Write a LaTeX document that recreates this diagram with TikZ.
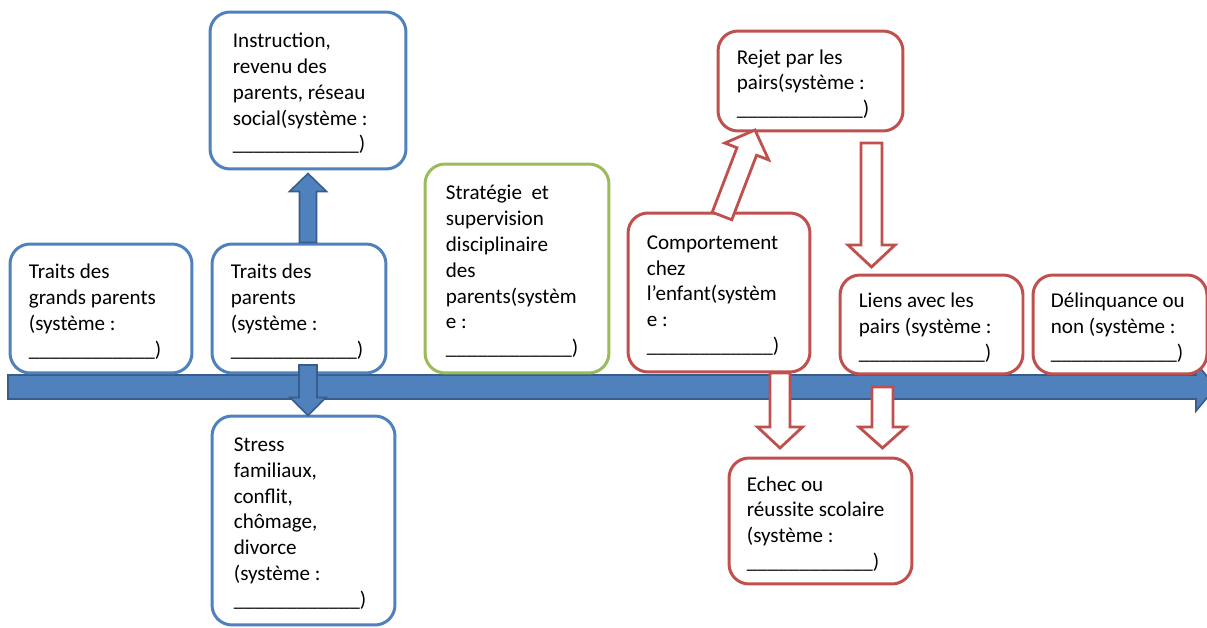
\documentclass[tikz,border=0pt]{standalone}
\usepackage{fontspec}
\setmainfont{Carlito}
\usetikzlibrary{calc}

\definecolor{boxblue}{HTML}{4F81BD}
\definecolor{arrowblue}{HTML}{4F81BD}
\definecolor{arrowedge}{HTML}{385D8A}
\definecolor{boxgreen}{HTML}{9BBB59}
\definecolor{boxred}{HTML}{C0504D}

% blank to be filled in by the reader
\newcommand\sysline{\_\_\_\_\_\_\_\_\_\_\_\_)}

% block arrow: [style] {tail} {tip} {half shaft} {half head} {head length}
\newcommand\blockarrow[6][]{%
  \coordinate (ba-base) at ($(#3)!#6!(#2)$);
  \path[#1] ($(#2)!#4!90:(#3)$) -- ($(ba-base)!#4!90:(#3)$)
    -- ($(ba-base)!#5!90:(#3)$) -- (#3)
    -- ($(ba-base)!#5!-90:(#3)$) -- ($(ba-base)!#4!-90:(#3)$)
    -- ($(#2)!#4!-90:(#3)$) -- cycle;
}

% box with its text set flush left at a fixed inset
% [style] {name} {centre} {width} {height} {inset} {text}
\newcommand\labelbox[7][]{%
  \node[#1, minimum width=#4, minimum height=#5] (#2) at (#3) {};
  \node[txt] (#2-text) at ($(#2.west)+(#6,3)$) {#7};
}

\begin{document}
\begin{tikzpicture}[x=0.02cm,y=-0.02cm,
  box/.style={draw, line width=1.7pt, fill=white, rounded corners=0.4cm,
    inner sep=0pt, anchor=center},
  bluebox/.style={box, draw=boxblue},
  greenbox/.style={box, draw=boxgreen},
  redbox/.style={box, draw=boxred},
  txt/.style={anchor=west, align=left, inner sep=0pt,
    font=\fontsize{12}{14.7}\selectfont},
  bluearrow/.style={fill=arrowblue, draw=arrowedge, line width=0.9pt},
  redarrow/.style={fill=white, draw=boxred, line width=1.6pt}
]
\useasboundingbox (0,0) rectangle (1207,628);

% time line
\coordinate (tl-start) at (8,387);
\coordinate (tl-end) at (1216,387);
\blockarrow[bluearrow]{tl-start}{tl-end}{0.24cm}{0.48cm}{0.40cm}

% boxes
\labelbox[bluebox]{gp}{101,308.5}{3.64cm}{2.58cm}{20}
  {Traits des\\grands parents\\(système :\\\sysline}
\labelbox[bluebox]{par}{299,308.5}{3.48cm}{2.58cm}{20}
  {Traits des\\parents\\(système :\\\sysline}
\labelbox[bluebox]{instr}{308,90.5}{3.92cm}{3.14cm}{24}
  {Instruction,\\revenu des\\parents, réseau\\social(système :\\\sysline}
\labelbox[bluebox]{stress}{303.5,520.5}{3.66cm}{4.18cm}{23}
  {Stress\\familiaux,\\conflit,\\chômage,\\divorce\\(système :\\\sysline}
\labelbox[greenbox]{strat}{517,268.5}{3.68cm}{4.18cm}{22}
  {Stratégie\ \ et\\supervision\\disciplinaire\\des\\parents(systèm\\e :\\\sysline}
\labelbox[redbox]{comp}{719,292.5}{3.64cm}{3.18cm}{20}
  {Comportement\\chez\\l’enfant(systèm\\e :\\\sysline}
\labelbox[redbox]{rejet}{810.5,81}{3.70cm}{2.0cm}{20}
  {Rejet par les\\pairs(système :\\\sysline}
\labelbox[redbox]{liens}{931.5,324.5}{3.66cm}{1.98cm}{20}
  {Liens avec les\\pairs (système :\\\sysline}
\labelbox[redbox]{delin}{1120,324.5}{3.48cm}{1.98cm}{19}
  {Délinquance ou\\non (système :\\\sysline}
\labelbox[redbox]{echec}{820.5,521}{3.66cm}{2.52cm}{19}
  {Echec ou\\réussite scolaire\\(système :\\\sysline}

% parents -> resources and stress
\coordinate (up-tail) at (instr.south |- par.north);
\coordinate (up-tip) at ($(instr.south)+(0,3)$);
\blockarrow[bluearrow]{up-tail}{up-tip}{0.17cm}{0.37cm}{0.36cm}
\coordinate (dn-tail) at (308,365);
\coordinate (dn-tip) at ($(dn-tail |- stress.north)+(0,1)$);
\blockarrow[bluearrow]{dn-tail}{dn-tip}{0.18cm}{0.36cm}{0.36cm}

% child behaviour -> peers, school
\coordinate (cr-tail) at (722,216);
\coordinate (cr-tip) at (755,130);
\blockarrow[redarrow]{cr-tail}{cr-tip}{0.21cm}{0.47cm}{0.46cm}
\coordinate (rl-tail) at (871.5,143);
\coordinate (rl-tip) at (871.5,267);
\blockarrow[redarrow]{rl-tail}{rl-tip}{0.21cm}{0.47cm}{0.44cm}
\coordinate (ce-tail) at (780,373);
\coordinate (ce-tip) at (780,448);
\blockarrow[redarrow]{ce-tail}{ce-tip}{0.20cm}{0.45cm}{0.42cm}
\coordinate (le-tail) at (882.5,387);
\coordinate (le-tip) at (882.5,448);
\blockarrow[redarrow]{le-tail}{le-tip}{0.21cm}{0.47cm}{0.42cm}
\end{tikzpicture}
\end{document}
